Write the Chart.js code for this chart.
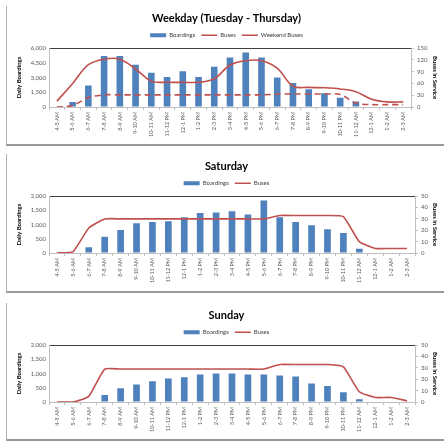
<!DOCTYPE html>
<html>
<head>
<meta charset="utf-8">
<script src="https://cdn.jsdelivr.net/npm/chart.js@4/dist/chart.umd.min.js"></script>
<style>
  body { margin: 0; background: #fff; width: 444px; height: 443px; overflow: hidden; position: relative; }
  .panel { position: absolute; left: 6px; width: 438px; border-left: 1px solid #b0b0b0; border-bottom: 2px solid #999; }
  .box { position: absolute; left: 1px; top: 0; width: 437px; }
</style>
</head>
<body>
<div class="panel" style="top:6px;height:138px"><div class="box" style="height:138px"><canvas id="weekday"></canvas></div></div>
<div class="panel" style="top:154px;height:137px"><div class="box" style="height:137px"><canvas id="saturday"></canvas></div></div>
<div class="panel" style="top:303px;height:136px"><div class="box" style="height:136px"><canvas id="sunday"></canvas></div></div>
<script>
const hours = ['4-5 AM', '5-6 AM', '6-7 AM', '7-8 AM', '8-9 AM', '9-10 AM', '10-11 AM', '11-12 PM',
  '12-1 PM', '1-2 PM', '2-3 PM', '3-4 PM', '4-5 PM', '5-6 PM', '6-7 PM', '7-8 PM', '8-9 PM',
  '9-10 PM', '10-11 PM', '11-12 AM', '12-1 AM', '1-2 AM', '2-3 AM']

const weekdayBoardings = [0, 500, 2200, 5200, 5200, 4300, 3500, 3050, 3650, 3050, 4100,
  5050, 5550, 5050, 3000, 2450, 1800, 1400, 950, 550, null, null, null]
const weekdayBuses = [15, 60, 108, 122, 122, 97, 66, 63, 63, 63, 72,
  107, 118, 118, 99, 53, 50, 49, 46, 39, 20, 13, 13]
const weekendBuses = [0, 4, 24, 31, 31, 31, 31, 31, 31, 31, 31,
  31, 31, 31, 33, 33, 33, 33, 32, 10, 6, 6, 6]

const saturdayBoardings = [null, null, 200, 570, 810, 1050, 1090, 1120, 1260, 1410, 1430,
  1470, 1360, 1850, 1260, 1090, 980, 840, 700, 150, null, null, null]
const saturdayBuses = [0, 1, 22, 30, 30, 30, 30, 30, 30, 30, 30,
  30, 30, 30, 33, 33, 33, 33, 32, 10, 4, 4, 4]

const sundayBoardings = [null, null, null, 245, 480, 615, 735, 825, 870, 965, 1000,
  1000, 965, 965, 930, 895, 650, 560, 340, 95, null, null, null]
const sundayBuses = [0, 0, 5, 29, 29, 29, 29, 29, 29, 29, 29,
  29, 29, 29, 33, 33, 33, 33, 31, 9, 4, 4, 1]

const blue = '#4F81BD'
const red = '#C0504D'
const axisGrey = '#bfbfbf'
const font = 'Lato, "Liberation Sans", sans-serif'

Chart.defaults.font.family = font
Chart.defaults.color = '#595959'

function makeChart(id, title, boardings, lines, leftMax, rightMax, sizes) {
  const datasets = [{
    type: 'bar', label: 'Boardings', data: boardings, backgroundColor: blue,
    barPercentage: 0.42, categoryPercentage: 1, yAxisID: 'y', order: 2
  }]
  lines.forEach(l => datasets.push({
    type: 'line', label: l.label, data: l.data, borderColor: red, backgroundColor: red,
    borderWidth: 1.6, borderDash: l.dash || [], pointRadius: 0, tension: l.tension,
    yAxisID: 'y1', order: 1
  }))

  new Chart(document.getElementById(id), {
    data: { labels: hours, datasets },
    options: {
      responsive: true,
      maintainAspectRatio: false,
      animation: false,
      plugins: {
        title: {
          display: true, text: title, color: '#000',
          font: { size: 11, weight: 'bold' }, padding: { top: sizes.titleTop, bottom: 1 }
        },
        legend: {
          labels: {
            font: { size: 6 }, color: '#404040', boxWidth: 16, boxHeight: 4,
            usePointStyle: true, pointStyleWidth: 16, padding: sizes.legendPad,
            sort: (a, b) => a.datasetIndex - b.datasetIndex,
            generateLabels(chart) {
              const items = Chart.defaults.plugins.legend.labels.generateLabels(chart)
              items.forEach(it => {
                if (it.datasetIndex === 0) { it.pointStyle = 'rect'; it.lineWidth = 0 }
                else { it.pointStyle = 'line'; it.lineWidth = 1.5 }
              })
              return items
            }
          }
        },
        tooltip: { enabled: false }
      },
      scales: {
        x: {
          offset: true,
          grid: { offset: true, drawOnChartArea: false, tickLength: 3, color: axisGrey },
          border: { color: axisGrey },
          ticks: { autoSkip: false, minRotation: 90, maxRotation: 90, font: { size: 5.5 }, padding: 2 },
          afterFit: s => { s.height = sizes.xHeight }
        },
        y: {
          position: 'left', min: 0, max: leftMax, ticks: { stepSize: leftMax / 4, font: { size: 6 }, padding: 3 },
          grid: { color: c => c.tick && c.tick.value === leftMax ? '#404040' : 'rgba(0,0,0,0)', tickLength: 0 },
          border: { color: axisGrey },
          title: { display: true, text: 'Daily Boardings', color: '#000', font: { size: 6, weight: 'bold' }, padding: { top: 7, bottom: 2 } },
          afterFit: s => { s.width = 41 }
        },
        y1: {
          position: 'right', min: 0, max: rightMax, ticks: { stepSize: rightMax / 5, font: { size: 6 }, padding: 3 },
          grid: { drawOnChartArea: false, tickLength: 3, color: axisGrey },
          border: { color: axisGrey },
          title: { display: true, text: 'Buses in Service', color: '#000', font: { size: 6, weight: 'bold' }, padding: { top: 6, bottom: 2 } },
          afterFit: s => { s.width = sizes.rightWidth }
        }
      }
    }
  })
}

makeChart('weekday', 'Weekday (Tuesday - Thursday)', weekdayBoardings, [
  { label: 'Buses', data: weekdayBuses, tension: 0.35 },
  { label: 'Weekend Buses', data: weekendBuses, dash: [6, 4], tension: 0.3 }
], 6000, 150, { titleTop: 6, legendPad: 6, xHeight: 37, rightWidth: 34 })

makeChart('saturday', 'Saturday', saturdayBoardings, [
  { label: 'Buses', data: saturdayBuses, tension: 0.15 }
], 2000, 50, { titleTop: 6, legendPad: 6, xHeight: 38, rightWidth: 30 })

makeChart('sunday', 'Sunday', sundayBoardings, [
  { label: 'Buses', data: sundayBuses, tension: 0.15 }
], 2000, 50, { titleTop: 6, legendPad: 6, xHeight: 37, rightWidth: 30 })
</script>
</body>
</html>
